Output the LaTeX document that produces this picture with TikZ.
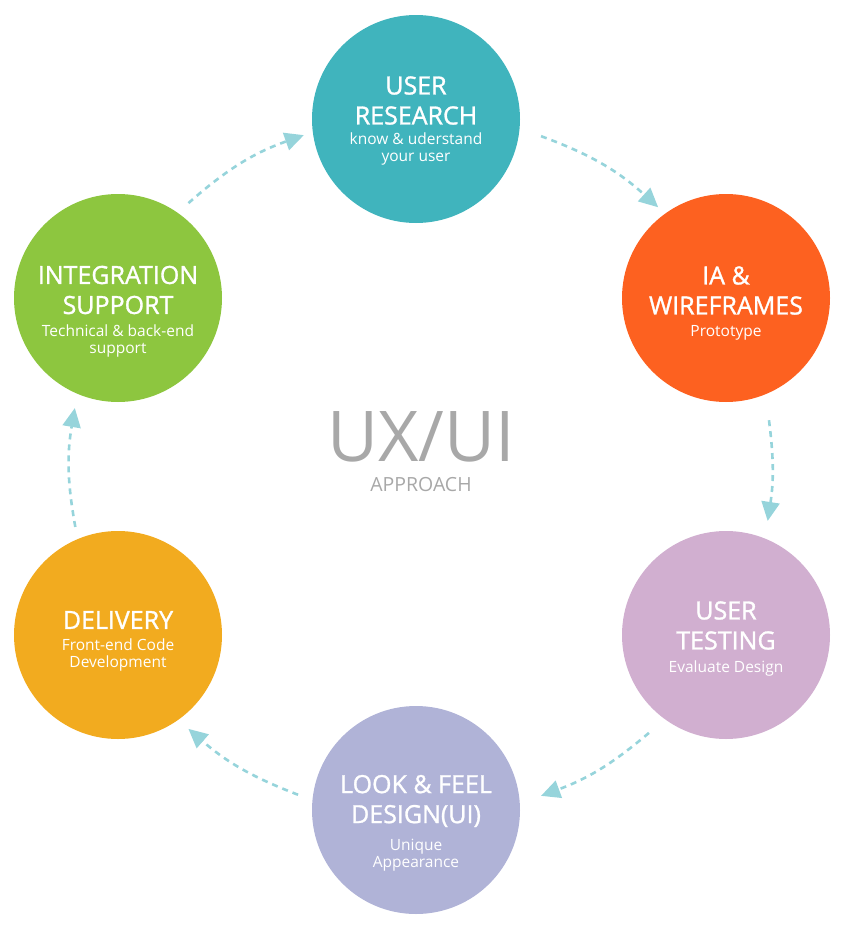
\documentclass[tikz,border=0pt]{standalone}
\usepackage{fontspec}
\setmainfont{Open Sans}
\newfontfamily\semib{Open Sans}[FakeBold=1.2]
\usetikzlibrary{arrows.meta,calc}
\definecolor{cteal}{HTML}{40B4BD}
\definecolor{corange}{HTML}{FD6120}
\definecolor{cpink}{HTML}{D1AFD0}
\definecolor{clav}{HTML}{B0B3D7}
\definecolor{cyellow}{HTML}{F2AB1F}
\definecolor{cgreen}{HTML}{8DC63F}
\definecolor{carrow}{HTML}{96D4DB}
\definecolor{cgray}{HTML}{A8A8A8}
\tikzset{
  stage/.style={circle, fill=#1, minimum size=208pt, inner sep=0pt},
  ttl/.style={align=center, text=white, inner sep=0pt, font=\semib\fontsize{25}{30}\selectfont},
  sbt/.style={align=center, text=white, inner sep=0pt, font=\fontsize{15.5}{17}\selectfont},
  arr/.style={draw=carrow, line width=2.6pt, dash pattern=on 6pt off 5pt,
    -{Triangle[length=19pt,width=18pt]}},
}
\begin{document}
\begin{tikzpicture}[x=1pt,y=1pt]
\useasboundingbox (0,0) rectangle (843,-929);
\node[stage=cteal]   (ur) at (416,-119) {};
\node[stage=corange] (ia) at (726,-298) {};
\node[stage=cpink]   (ut) at (726,-635) {};
\node[stage=clav]    (lf) at (416,-810) {};
\node[stage=cyellow] (dl) at (118,-635) {};
\node[stage=cgreen]  (is) at (118,-298) {};

\node[ttl] (urt) at (416,-100.5) {USER\\RESEARCH};
\node[sbt] (urs) at (416,-148.5) {know \& uderstand\\your user};
\node[ttl] (iat) at (726,-290.5) {IA \&\\WIREFRAMES};
\node[sbt] (ias) at (726,-333) {Prototype};
\node[ttl] (utt) at (726,-625.5) {USER\\TESTING};
\node[sbt] (uts) at (726,-668) {Evaluate Design};
\node[ttl] (lft) at (416,-801) {LOOK \& FEEL\\DESIGN(UI)};
\node[sbt] (lfs) at (416,-855) {Unique\\Appearance};
\node[ttl] (dlt) at (118,-620) {DELIVERY};
\node[sbt] (dls) at (118,-654.5) {Front-end Code\\Development};
\node[ttl] (ist) at (118,-290) {INTEGRATION\\SUPPORT};
\node[sbt] (iss) at (118,-341) {Technical \& back-end\\support};

\node[text=cgray, inner sep=0pt, font=\fontsize{70}{74}\selectfont] (ux) at (421,-437) {UX/UI};
\node[text=cgray, inner sep=0pt, font=\fontsize{19.5}{22}\selectfont] (ap) at (421,-485) {APPROACH};

\coordinate (O) at (421,-466);
\coordinate (a1s) at ($(O)+(70:351)$);   \coordinate (a1e) at ($(O)+(47.5:351)$);
\coordinate (a2s) at ($(O)+(7.5:351)$);  \coordinate (a2e) at ($(O)+(-9:351)$);
\coordinate (a3s) at ($(O)+(-49.5:351)$);\coordinate (a3e) at ($(O)+(-70:351)$);
\coordinate (a4s) at ($(O)+(-110.5:351)$);\coordinate (a4e) at ($(O)+(-131.5:351)$);
\coordinate (a5s) at ($(O)+(-170:351)$); \coordinate (a5e) at ($(O)+(170.5:351)$);
\coordinate (a6s) at ($(O)+(131.5:351)$);\coordinate (a6e) at ($(O)+(109.5:351)$);

\draw[arr] (a1s) to[bend left=11] (a1e);
\draw[arr] (a2s) to[bend left=8] (a2e);
\draw[arr] (a3s) to[bend left=10] (a3e);
\draw[arr] (a4s) to[bend left=10] (a4e);
\draw[arr] (a5s) to[bend left=10] (a5e);
\draw[arr] (a6s) to[bend left=11] (a6e);
\end{tikzpicture}
\end{document}
